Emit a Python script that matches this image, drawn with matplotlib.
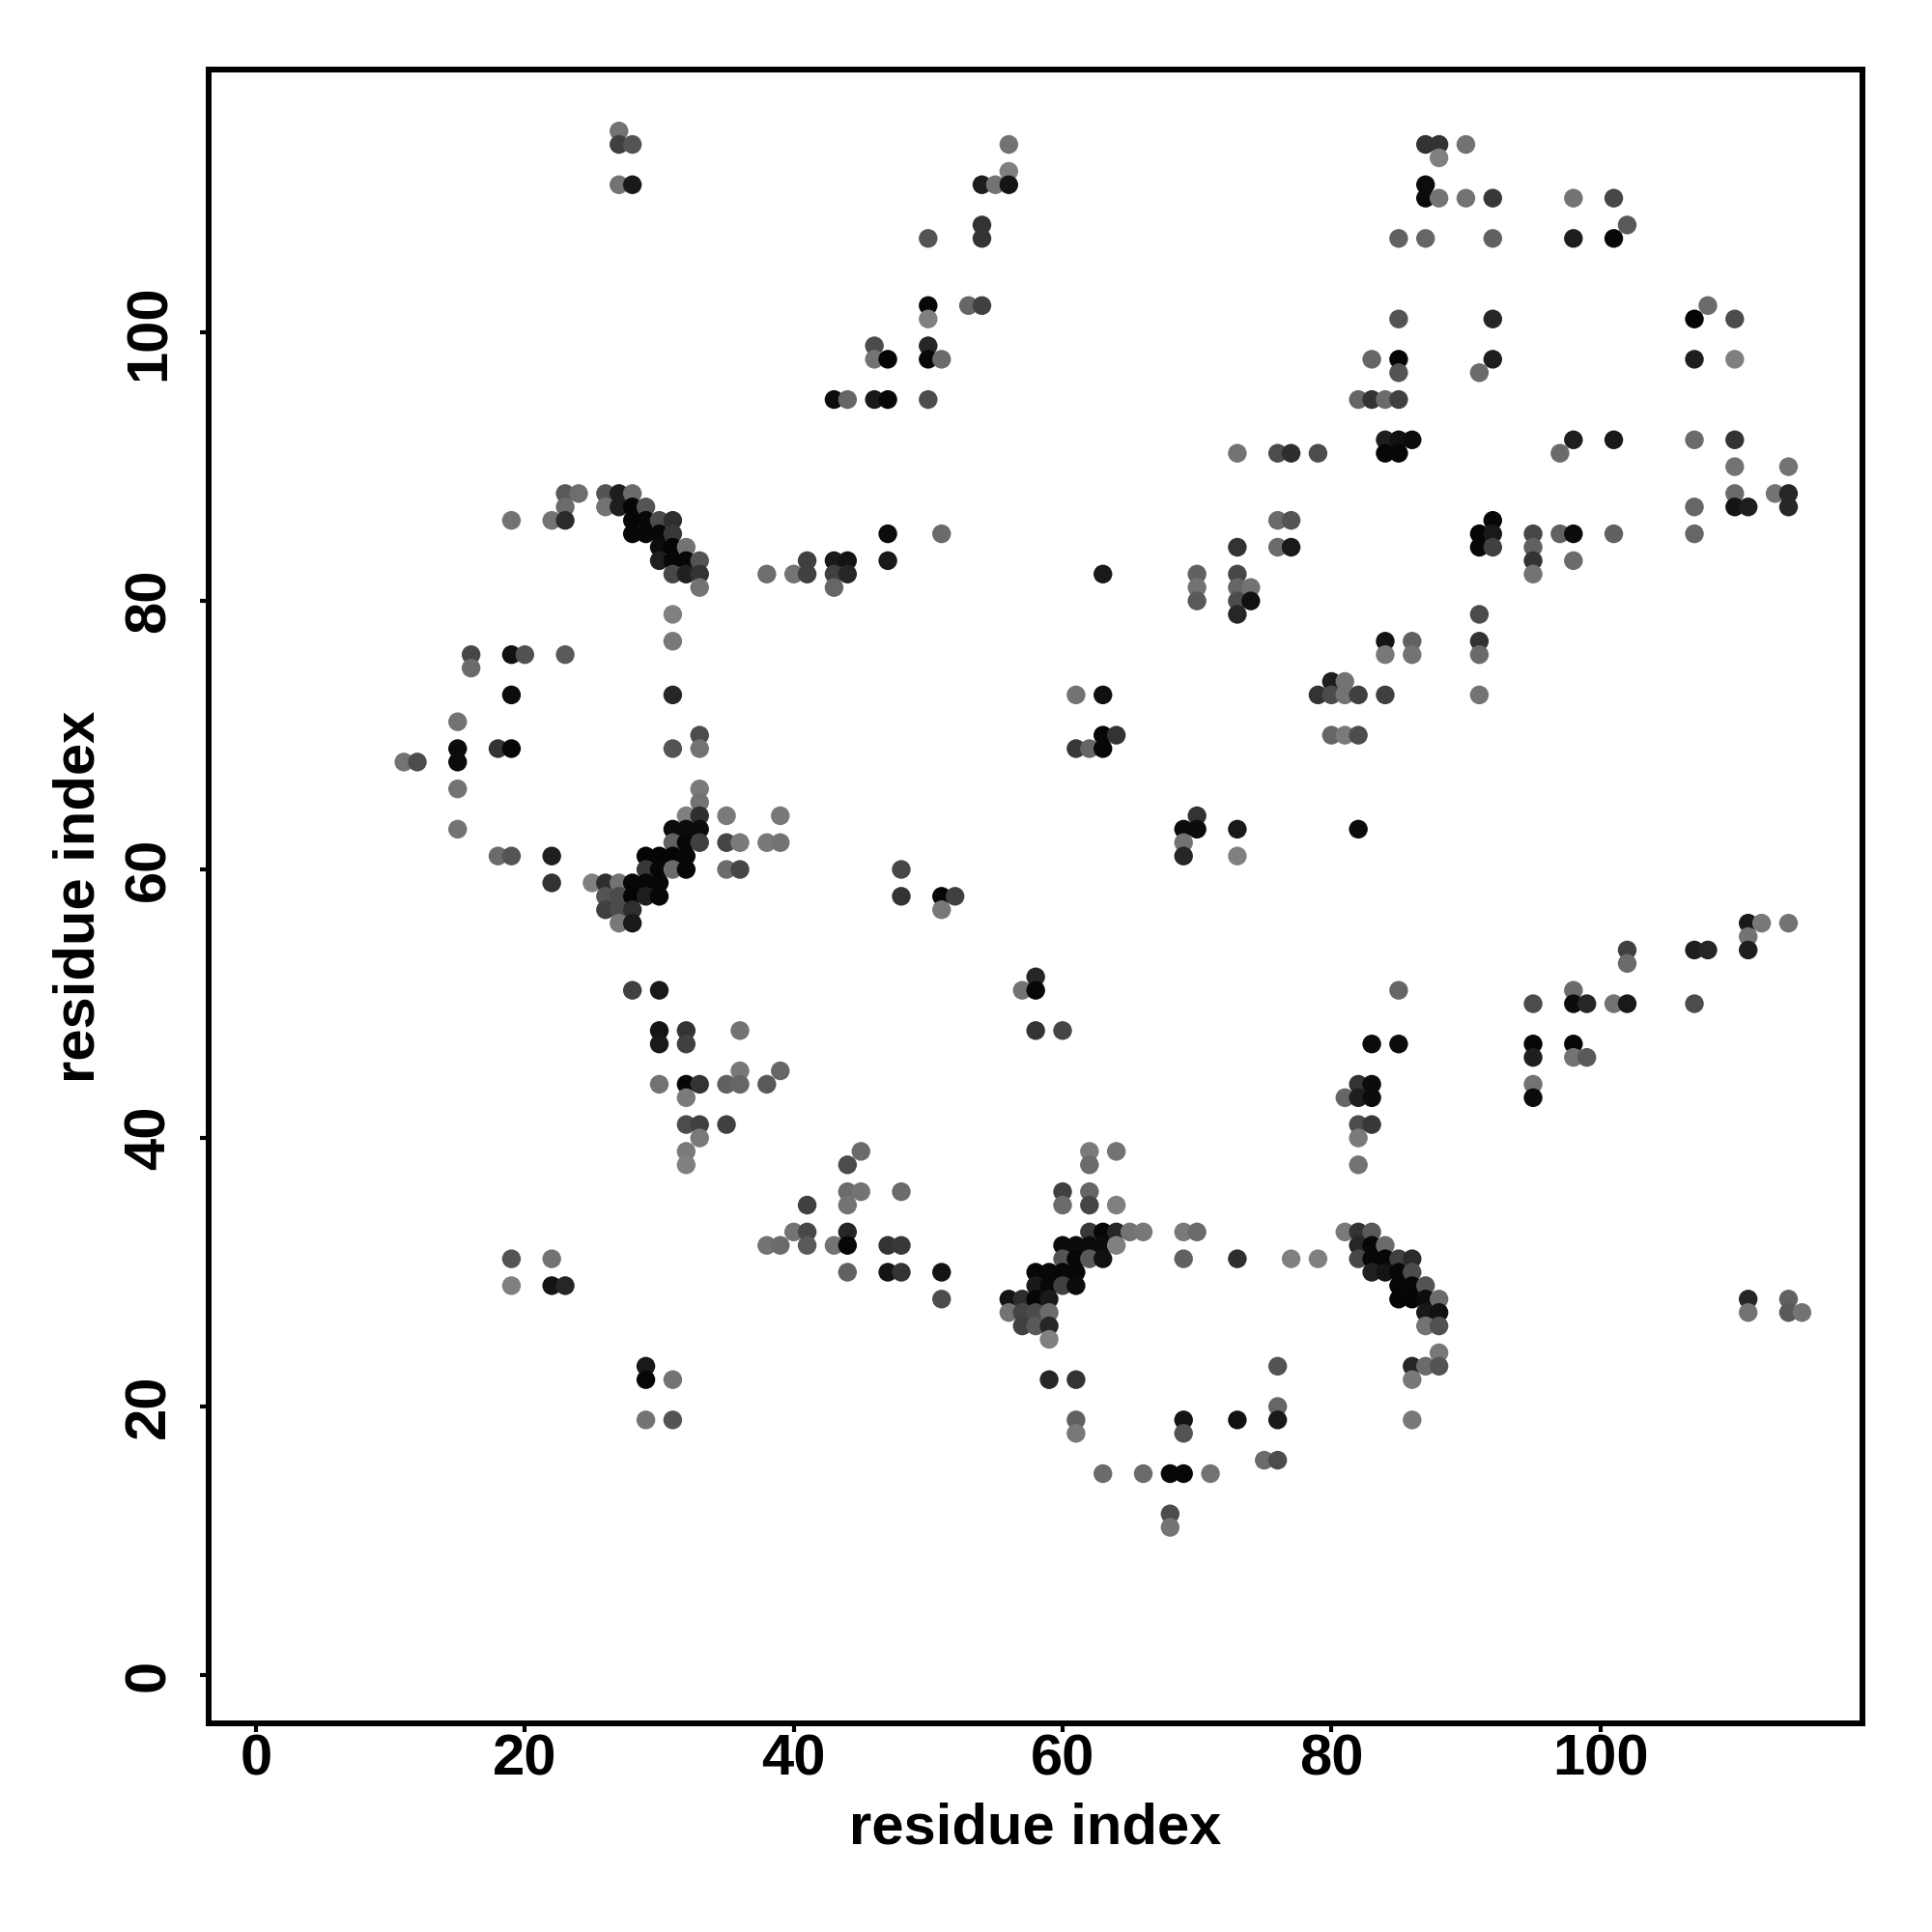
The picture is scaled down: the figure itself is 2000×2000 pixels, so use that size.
#!/usr/bin/env python3

import matplotlib
matplotlib.use("Agg")
import matplotlib.pyplot as plt

plt.rcParams['font.family'] = ['Liberation Sans', 'DejaVu Sans']

# one row of the picture per line: residue on x, residue on y, grey of the dot
contact_x = [
	27,
	27, 28, 56, 87, 88, 90,
	88,
	56,
	27, 28, 54, 55, 56, 87,
	87, 88, 90, 92, 98, 101,
	54, 102,
	50, 54, 85, 87, 92, 98, 101,
	50, 53, 54, 108,
	50, 85, 92, 107, 110,
	46, 50,
	46, 47, 50, 51, 83, 85, 92, 107, 110,
	85, 91,
	43, 44, 46, 47, 50, 82, 83, 84, 85,
	84, 85, 86, 98, 101, 107, 110,
	73, 76, 77, 79, 84, 85, 97,
	110, 114,
	23, 24, 26, 27, 28, 110, 113, 114,
	23, 26, 27, 28, 29, 107, 110, 111, 114,
	19, 22, 23, 28, 29, 30, 31, 76, 77, 92,
	28, 29, 30, 31, 47, 51, 91, 92, 95, 97, 98, 101, 107,
	30, 31, 32, 73, 76, 77, 91, 92, 95,
	30, 31, 32, 33, 41, 43, 44, 47, 95, 98,
	31, 32, 33, 38, 40, 41, 43, 44, 63, 70, 73, 95,
	33, 43, 70, 73, 74,
	70, 73, 74,
	31, 73, 91,
	31, 84, 86, 91,
	16, 19, 20, 23, 84, 86, 91,
	16,
	80, 81,
	19, 31, 61, 63, 79, 80, 81, 82, 84, 91,
	15,
	33, 63, 64, 80, 81, 82,
	15, 18, 19, 31, 33, 61, 62, 63,
	11, 12, 15,
	15, 33,
	33,
	32, 33, 35, 39, 70,
	15, 31, 32, 33, 69, 70, 73, 82,
	31, 32, 33, 35, 36, 38, 39, 69,
	18, 19, 22, 29, 30, 31, 32, 69, 73,
	29, 30, 31, 32, 35, 36, 48,
	22, 25, 26, 27, 28, 29, 30,
	26, 27, 28, 29, 30, 48, 51, 52,
	26, 27, 28, 51,
	27, 28, 111, 112, 114,
	111,
	102, 107, 108, 111,
	102,
	58,
	28, 30, 57, 58, 85, 98,
	95, 98, 99, 101, 102, 107,
	30, 32, 36, 58, 60,
	30, 32, 83, 85, 95, 98,
	95, 98, 99,
	36, 39,
	30, 32, 33, 35, 36, 38, 82, 83, 95,
	32, 81, 82, 83, 95,
	32, 33, 35, 82, 83,
	33, 82,
	32, 45, 62, 64,
	32, 44, 62, 82,
	44, 45, 48, 60, 62,
	41, 44, 60, 62, 64,
	40, 41, 44, 62, 63, 64, 65, 66, 69, 70, 81, 82, 83,
	38, 39, 41, 43, 44, 47, 48, 60, 61, 62, 63, 64, 82, 83, 84,
	19, 22, 60, 61, 62, 63, 69, 73, 77, 79, 82, 83, 84, 85, 86,
	44, 47, 48, 51, 58, 59, 60, 61, 83, 84, 85, 86,
	19, 22, 23, 58, 59, 60, 61, 85, 86, 87,
	51, 56, 57, 58, 59, 85, 86, 87, 88, 111, 114,
	56, 57, 58, 59, 87, 88, 111, 114, 115,
	57, 58, 59, 87, 88,
	59,
	88,
	29, 76, 86, 87, 88,
	29, 31, 59, 61, 86,
	76,
	29, 31, 61, 69, 73, 76, 86,
	61, 69,
	75, 76,
	63, 66, 68, 69, 71,
	68,
	68,
]

contact_y = [
	115,
	114, 114, 114, 114, 114, 114,
	113,
	112,
	111, 111, 111, 111, 111, 111,
	110, 110, 110, 110, 110, 110,
	108, 108,
	107, 107, 107, 107, 107, 107, 107,
	102, 102, 102, 102,
	101, 101, 101, 101, 101,
	99, 99,
	98, 98, 98, 98, 98, 98, 98, 98, 98,
	97, 97,
	95, 95, 95, 95, 95, 95, 95, 95, 95,
	92, 92, 92, 92, 92, 92, 92,
	91, 91, 91, 91, 91, 91, 91,
	90, 90,
	88, 88, 88, 88, 88, 88, 88, 88,
	87, 87, 87, 87, 87, 87, 87, 87, 87,
	86, 86, 86, 86, 86, 86, 86, 86, 86, 86,
	85, 85, 85, 85, 85, 85, 85, 85, 85, 85, 85, 85, 85,
	84, 84, 84, 84, 84, 84, 84, 84, 84,
	83, 83, 83, 83, 83, 83, 83, 83, 83, 83,
	82, 82, 82, 82, 82, 82, 82, 82, 82, 82, 82, 82,
	81, 81, 81, 81, 81,
	80, 80, 80,
	79, 79, 79,
	77, 77, 77, 77,
	76, 76, 76, 76, 76, 76, 76,
	75,
	74, 74,
	73, 73, 73, 73, 73, 73, 73, 73, 73, 73,
	71,
	70, 70, 70, 70, 70, 70,
	69, 69, 69, 69, 69, 69, 69, 69,
	68, 68, 68,
	66, 66,
	65,
	64, 64, 64, 64, 64,
	63, 63, 63, 63, 63, 63, 63, 63,
	62, 62, 62, 62, 62, 62, 62, 62,
	61, 61, 61, 61, 61, 61, 61, 61, 61,
	60, 60, 60, 60, 60, 60, 60,
	59, 59, 59, 59, 59, 59, 59,
	58, 58, 58, 58, 58, 58, 58, 58,
	57, 57, 57, 57,
	56, 56, 56, 56, 56,
	55,
	54, 54, 54, 54,
	53,
	52,
	51, 51, 51, 51, 51, 51,
	50, 50, 50, 50, 50, 50,
	48, 48, 48, 48, 48,
	47, 47, 47, 47, 47, 47,
	46, 46, 46,
	45, 45,
	44, 44, 44, 44, 44, 44, 44, 44, 44,
	43, 43, 43, 43, 43,
	41, 41, 41, 41, 41,
	40, 40,
	39, 39, 39, 39,
	38, 38, 38, 38,
	36, 36, 36, 36, 36,
	35, 35, 35, 35, 35,
	33, 33, 33, 33, 33, 33, 33, 33, 33, 33, 33, 33, 33,
	32, 32, 32, 32, 32, 32, 32, 32, 32, 32, 32, 32, 32, 32, 32,
	31, 31, 31, 31, 31, 31, 31, 31, 31, 31, 31, 31, 31, 31, 31,
	30, 30, 30, 30, 30, 30, 30, 30, 30, 30, 30, 30,
	29, 29, 29, 29, 29, 29, 29, 29, 29, 29,
	28, 28, 28, 28, 28, 28, 28, 28, 28, 28, 28,
	27, 27, 27, 27, 27, 27, 27, 27, 27,
	26, 26, 26, 26, 26,
	25,
	24,
	23, 23, 23, 23, 23,
	22, 22, 22, 22, 22,
	20,
	19, 19, 19, 19, 19, 19, 19,
	18, 18,
	16, 16,
	15, 15, 15, 15, 15,
	12,
	11,
]

contact_grey = [
	.45,
	.25, .33, .45, .2, .2, .45,
	.5,
	.5,
	.45, .1, .12, .45, .08, .05,
	.05, .45, .45, .22, .45, .28,
	.2, .35,
	.33, .2, .38, .4, .38, .12, .03,
	.03, .4, .25, .42,
	.5, .33, .15, .02, .3,
	.3, .15,
	.45, .02, .03, .42, .4, .02, .12, .12, .5,
	.33, .42,
	.05, .4, .1, .03, .3, .4, .2, .42, .25,
	.12, .07, .05, .12, .1, .42, .2,
	.45, .3, .18, .3, .03, .03, .42,
	.45, .45,
	.35, .43, .33, .12, .42, .42, .45, .15,
	.42, .45, .12, .02, .33, .4, .08, .12, .15,
	.45, .45, .17, .03, .03, .3, .18, .42, .33, .03,
	.03, .03, .03, .22, .05, .42, .02, .1, .28, .38, .05, .38, .4,
	.05, .02, .45, .2, .42, .1, .03, .25, .38,
	.12, .03, .03, .33, .25, .1, .08, .1, .2, .42,
	.28, .13, .2, .43, .45, .25, .25, .15, .1, .38, .28, .45,
	.45, .4, .45, .4, .45,
	.35, .3, .07,
	.5, .15, .3,
	.47, .08, .38, .2,
	.28, .07, .32, .35, .47, .45, .42,
	.42,
	.12, .45,
	.05, .15, .45, .07, .2, .3, .45, .25, .25, .45,
	.45,
	.3, .03, .2, .4, .48, .3,
	.05, .2, .03, .33, .45, .22, .4, .03,
	.45, .3, .05,
	.45, .48,
	.45,
	.5, .18, .48, .47, .2,
	.45, .05, .05, .05, .05, .05, .1, .05,
	.38, .03, .25, .27, .48, .47, .45, .45,
	.42, .33, .12, .02, .02, .02, .03, .15, .5,
	.22, .03, .42, .03, .42, .27, .28,
	.2, .5, .18, .45, .03, .03, .03,
	.33, .3, .02, .12, .03, .2, .03, .25,
	.25, .3, .18, .47,
	.47, .1, .1, .47, .45,
	.45,
	.25, .12, .15, .12,
	.42,
	.15,
	.25, .1, .45, .03, .4, .42,
	.3, .05, .15, .45, .1, .3,
	.08, .2, .45, .2, .27,
	.1, .25, .05, .05, .03, .03,
	.12, .45, .35,
	.47, .4,
	.45, .03, .2, .38, .4, .35, .2, .05, .45,
	.48, .4, .12, .05, .05,
	.3, .25, .25, .3, .22,
	.48, .48,
	.48, .42, .48, .45,
	.5, .3, .42, .45,
	.42, .45, .42, .25, .4,
	.25, .45, .42, .27, .5,
	.45, .28, .15, .22, .03, .15, .45, .47, .48, .42, .48, .2, .35,
	.45, .42, .35, .45, .03, .2, .22, .05, .05, .05, .05, .5, .15, .03, .42,
	.33, .45, .33, .03, .35, .07, .38, .18, .5, .5, .28, .03, .03, .25, .17,
	.38, .08, .2, .08, .03, .03, .03, .03, .13, .08, .03, .3,
	.5, .08, .15, .1, .03, .25, .05, .03, .03, .33,
	.3, .08, .18, .03, .1, .02, .02, .05, .42, .15, .38,
	.45, .27, .3, .42, .1, .07, .45, .35, .45,
	.25, .35, .15, .45, .32,
	.5,
	.47,
	.1, .33, .15, .42, .33,
	.03, .45, .15, .2, .47,
	.4,
	.45, .33, .38, .08, .07, .1, .47,
	.47, .33,
	.42, .3,
	.42, .42, .03, .03, .45,
	.3,
	.45,
]

ticks = [0, 20, 40, 60, 80, 100]

fig = plt.figure(figsize=(20, 20), dpi=100)
ax = fig.add_axes([0.10815, 0.108, 0.85585, 0.85615])

ax.scatter(contact_x, contact_y, c=contact_grey, cmap='gray', vmin=0, vmax=1,
	s=195, linewidths=0, clip_on=False)

ax.set_xlim(-3.5, 119.5)
ax.set_ylim(-3.6, 119.6)

ax.set_xticks(ticks)
ax.set_yticks(ticks)
ax.tick_params(length=6.3, width=3, labelsize=43)
ax.tick_params(axis='x', pad=1.5)
ax.tick_params(axis='y', pad=18)
for lab in ax.get_xticklabels():
	lab.set_fontweight('bold')
for lab in ax.get_yticklabels():
	lab.set_fontweight('bold')
	lab.set_rotation(90)
	lab.set_va('center')

for s in ax.spines.values():
	s.set_linewidth(4.3)

ax.set_xlabel('residue index', fontsize=43, fontweight='bold', labelpad=11)
ax.set_ylabel('residue index', fontsize=43, fontweight='bold', labelpad=13)

fig.savefig('out.png')
plt.close(fig)
